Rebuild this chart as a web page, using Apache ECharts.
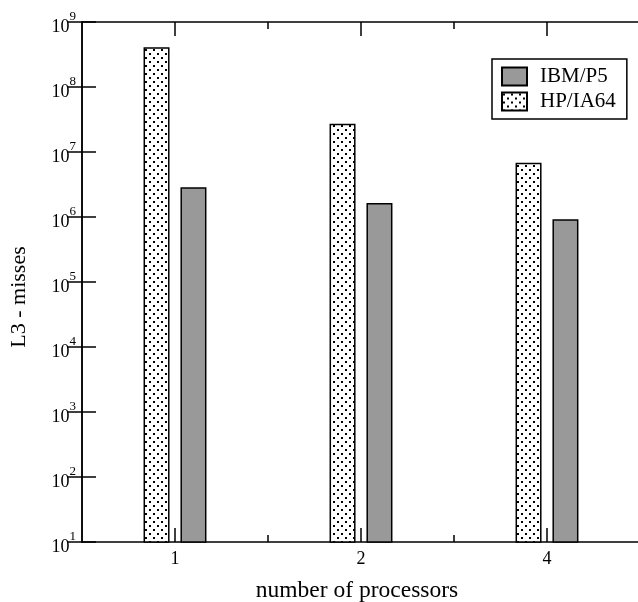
<!DOCTYPE html>
<html>
<head>
<meta charset="utf-8">
<script src="https://cdn.jsdelivr.net/npm/echarts@6/dist/echarts.min.js"></script>
<style>
  html, body { margin: 0; padding: 0; background: #fff; }
  #chart { width: 638px; height: 602px; }
</style>
</head>
<body>
<div id="chart"></div>
<script>
const processors = ['1', '2', '4'];
const ibmP5 = [2.86e6, 1.64e6, 9.2e5];
const hpIA64 = [4.1e8, 2.73e7, 6.85e6];

const FONT = 'Liberation Serif';
const BLACK = '#000';

// x axis runs in half steps: category i sits at 2*i+1, minor ticks between
const xOf = i => 2 * i + 1;
const majorX = processors.map((p, i) => xOf(i));
const minorX = processors.slice(1).map((p, i) => xOf(i) + 1);

function dotPattern() {
  const c = document.createElement('canvas');
  c.width = 8;
  c.height = 8;
  const ctx = c.getContext('2d');
  ctx.fillStyle = '#fff';
  ctx.fillRect(0, 0, 8, 8);
  ctx.fillStyle = '#000';
  ctx.fillRect(1, 1, 2, 2);
  ctx.fillRect(5, 5, 2, 2);
  return c;
}

const gridBox = { left: 82, top: 22, right: -2, bottom: 60, containLabel: false, outerBoundsMode: 'none' };
const line = { color: BLACK, width: 1.5 };

function xMajor(position) {
  return {
    type: 'value', gridIndex: 0, position: position, min: 0, max: 6,
    splitLine: { show: false },
    axisLine: { lineStyle: line },
    axisTick: { inside: true, length: 14, customValues: majorX, lineStyle: line },
    axisLabel: {
      show: position === 'bottom', customValues: majorX, margin: 8,
      formatter: v => processors[(v - 1) / 2],
      color: BLACK, fontFamily: FONT, fontSize: 18
    }
  };
}

function xMinor(position) {
  return {
    type: 'value', gridIndex: 1, position: position, min: 0, max: 6,
    splitLine: { show: false },
    axisLine: { show: false },
    axisTick: { inside: true, length: 7, customValues: minorX, lineStyle: line },
    axisLabel: { show: false }
  };
}

function yLog(position) {
  return {
    type: 'log', gridIndex: 0, position: position, logBase: 10,
    min: 10, max: 1e9, splitNumber: 8,
    splitLine: { show: false },
    axisLine: { lineStyle: line },
    axisTick: { inside: true, length: 14, lineStyle: line },
    axisLabel: {
      show: position === 'left', margin: 6, padding: [10.5, 0, 0, 0],
      formatter: v => '{b|10}{s|' + Math.round(Math.log10(v)) + '}',
      rich: {
        b: { fontFamily: FONT, fontSize: 18, color: BLACK, lineHeight: 18, verticalAlign: 'bottom' },
        s: { fontFamily: FONT, fontSize: 13, color: BLACK, lineHeight: 13, verticalAlign: 'bottom', padding: [0, 0, 13, 0] }
      }
    }
  };
}

const bottomX = xMajor('bottom');
bottomX.name = 'number of processors';
bottomX.nameLocation = 'middle';
bottomX.nameGap = 37;
bottomX.nameTextStyle = { fontFamily: FONT, fontSize: 23.5, color: BLACK, padding: [0, 8, 0, 0] };

const leftY = yLog('left');
leftY.name = 'L3 - misses';
leftY.nameLocation = 'middle';
leftY.nameGap = 52;
leftY.nameTextStyle = { fontFamily: FONT, fontSize: 22, color: BLACK, padding: [0, 30, 0, 0] };

const chart = echarts.init(document.getElementById('chart'));
chart.setOption({
  animation: false,
  backgroundColor: '#fff',
  grid: [gridBox, gridBox],
  xAxis: [bottomX, xMajor('top'), xMinor('bottom'), xMinor('top')],
  yAxis: [leftY, yLog('right'), { type: 'value', gridIndex: 1, show: false }],
  legend: {
    orient: 'vertical', left: 492, top: 59,
    data: ['IBM/P5', 'HP/IA64'],
    icon: 'rect', itemWidth: 25, itemHeight: 18, itemGap: 4,
    padding: [7, 11, 7, 9],
    borderColor: BLACK, borderWidth: 1.5, borderRadius: 0,
    textStyle: { fontFamily: FONT, fontSize: 21, color: BLACK, lineHeight: 21, padding: [0, 0, 0, 8] }
  },
  series: [
    {
      name: 'HP/IA64', type: 'bar', xAxisIndex: 0, yAxisIndex: 0,
      barWidth: 26, barGap: '42%',
      itemStyle: { color: { image: dotPattern(), repeat: 'repeat' }, borderColor: BLACK, borderWidth: 1.5 },
      data: hpIA64.map((v, i) => [xOf(i), v])
    },
    {
      name: 'IBM/P5', type: 'bar', xAxisIndex: 0, yAxisIndex: 0,
      barWidth: 26, barGap: '42%',
      itemStyle: { color: '#999999', borderColor: BLACK, borderWidth: 1.5 },
      data: ibmP5.map((v, i) => [xOf(i), v])
    }
  ]
});
</script>
</body>
</html>
